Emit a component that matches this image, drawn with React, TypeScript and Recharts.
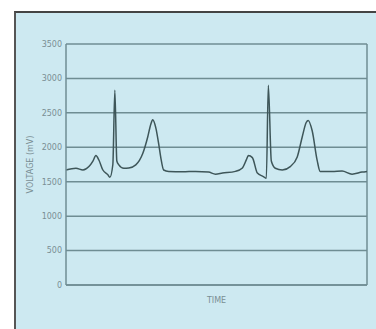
import { LineChart, Line, XAxis, YAxis, CartesianGrid, ReferenceLine } from "recharts";

// ECG-like trace
const time = [
  0, 10, 17, 23, 27, 30, 33, 37, 42, 44, 47, 49, 51, 53, 58, 63, 70, 77, 82, 85,
  87, 90, 93, 95, 98, 103, 117, 130, 143, 150, 157, 170, 177, 181, 183, 187, 192, 198, 201, 203,
  206, 210, 217, 225, 232, 237, 241, 243, 247, 252, 255, 267, 277, 287, 297, 302,
];
const voltage = [
  1670, 1695, 1670, 1720, 1800, 1880, 1815, 1670, 1600, 1565, 1750, 2830, 1800, 1745, 1695, 1700, 1745, 1910, 2150, 2330,
  2400, 2290, 2050, 1860, 1670, 1650, 1645, 1650, 1640, 1610, 1625, 1650, 1700, 1820, 1880, 1850, 1625, 1575, 1550, 2900,
  1800, 1695, 1670, 1720, 1860, 2150, 2360, 2390, 2240, 1810, 1650, 1650, 1655, 1610, 1640, 1650,
];
const yTicks = [0, 500, 1000, 1500, 2000, 2500, 3000, 3500];

const data = time.map((t, i) => ({ t, v: voltage[i] }));

const GRID = "#6f8d93";
const TEXT = "#7a8e94";

export default function App() {
  return (
    <div style={{ position: "absolute", left: 0, top: 0, width: 376, height: 329, background: "#fff" }}>
      <div
        style={{
          position: "absolute",
          left: 14,
          top: 11,
          width: 362,
          height: 318,
          background: "#cde9f1",
          borderLeft: "2px solid #555",
          borderTop: "2px solid #444",
          boxSizing: "border-box",
        }}
      />
      <div style={{ position: "absolute", left: 0, top: 0 }}>
        <LineChart width={376} height={329} data={data} margin={{ top: 44, right: 9, bottom: 20, left: 14 }}>
          <CartesianGrid vertical={false} stroke={GRID} strokeWidth={1.5} />
          <XAxis
            dataKey="t"
            type="number"
            domain={[0, 302]}
            tick={false}
            tickLine={false}
            axisLine={{ stroke: GRID, strokeWidth: 1.5 }}
            height={24}
            label={{ value: "TIME", position: "insideBottom", offset: 6, fontSize: 8, fill: TEXT, fontFamily: "DejaVu Sans" }}
          />
          <YAxis
            domain={[0, 3500]}
            ticks={yTicks}
            width={52}
            tickLine={false}
            tickSize={0}
            tickMargin={4}
            axisLine={{ stroke: GRID, strokeWidth: 1.5 }}
            tick={{ fontSize: 8, fill: TEXT, fontFamily: "DejaVu Sans" }}
            label={{
              value: "VOLTAGE (mV)",
              angle: -90,
              position: "insideLeft",
              offset: 16,
              fontSize: 8,
              fill: TEXT,
              fontFamily: "DejaVu Sans",
              style: { textAnchor: "middle" },
            }}
          />
          <ReferenceLine x={302} stroke={GRID} strokeWidth={1.5} />
          <Line
            type="monotone"
            dataKey="v"
            stroke="#3e5659"
            strokeWidth={1.5}
            dot={false}
            isAnimationActive={false}
          />
        </LineChart>
      </div>
    </div>
  );
}
